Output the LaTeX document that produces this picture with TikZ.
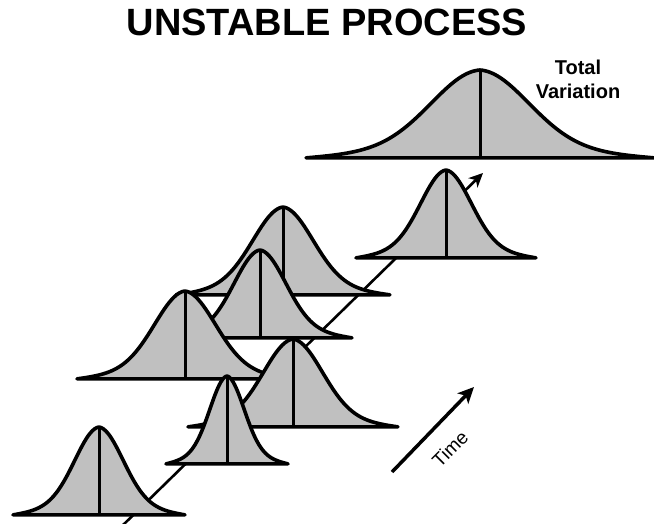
\documentclass[tikz,border=0pt]{standalone}
\usepackage{fontspec}
\setsansfont{Liberation Sans}
\usepackage{tikz}
\usetikzlibrary{arrows.meta, positioning}
\definecolor{bellgray}{RGB}{192,192,192}

\begin{document}
\begin{tikzpicture}[
    x=1pt, y=-1pt,
    >=Stealth,
    bellline/.style={draw=black, fill=bellgray, line width=3.6pt, line join=round},
    midline/.style={line width=3pt},
    timearr/.style={-{Stealth[length=16pt, width=15pt, inset=4pt]}, line width=3.5pt},
    axisarr/.style={-{Stealth[length=14pt, width=13pt, inset=4pt]}, line width=2.6pt},
    titletext/.style={font=\sffamily\bfseries\fontsize{38}{40}\selectfont, inner sep=0pt},
    sidetext/.style={font=\sffamily\bfseries\fontsize{20}{24}\selectfont, align=center, inner sep=0pt},
    timetext/.style={font=\sffamily\fontsize{19}{22}\selectfont, inner sep=0pt},
    pics/bell/.style={code={
        \filldraw[bellline] plot[domain=-1:1, samples=81, smooth, variable=\u]
            ({#1*\u}, {-88*(0.85*exp(-(\u)*(\u)/0.157)+0.15*(1-abs(\u)))}) -- cycle;
        \draw[midline] (0,0) -- (0,-88);
    }},
]
\useasboundingbox (0,0) rectangle (654,523);

% === Title and label ===
\node[titletext, anchor=base] (title) at (327,35) {UNSTABLE PROCESS};
\node[sidetext, anchor=base] (total) at (578,98) {Total\\Variation};

% === Time axis behind the curves ===
\coordinate (tstart) at (121,527);
\coordinate (tend) at (483,173);
\draw[axisarr] (tstart) -- (tend);

% === Distributions, back to front ===
\pic (c8) at (480,158) {bell=174};
\pic (c7) at (446,258) {bell=90};
\pic (c6) at (283,295) {bell=107};
\pic (c5) at (260,338) {bell=92};
\pic (c4) at (185,379) {bell=108};
\pic (c3) at (293,427) {bell=105};
\pic (c2) at (227,464) {bell=61};
\pic (c1) at (99,515) {bell=86};

% === Time arrow ===
\coordinate (timefrom) at (392,472);
\coordinate (timeto) at (474,387);
\draw[timearr] (timefrom) -- (timeto);
\node[timetext, rotate=45] (time) at (450,449) {Time};

\end{tikzpicture}
\end{document}
